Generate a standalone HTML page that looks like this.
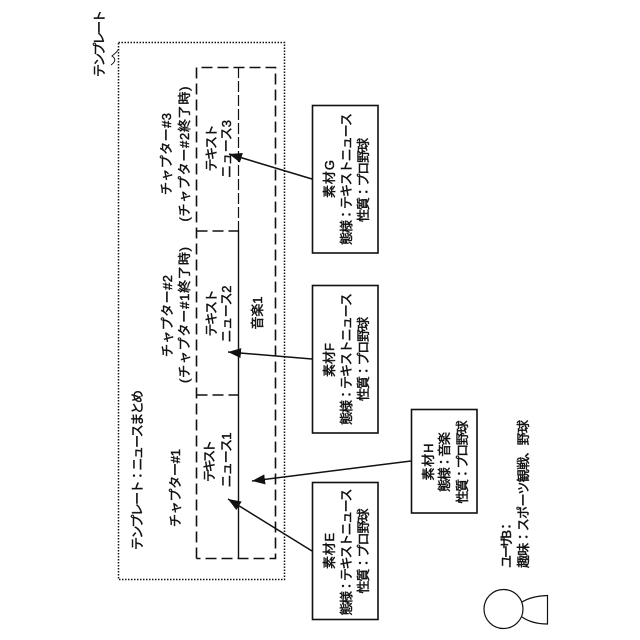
<!DOCTYPE html>
<html lang="ja">
<head>
<meta charset="utf-8">
<style>
html,body{margin:0;padding:0;background:#fff}
svg{display:block}
text{font-family:"Liberation Sans","Noto Sans CJK JP",sans-serif;font-size:13px;fill:#111;stroke:#111;stroke-width:.45px;text-anchor:middle}
</style>
</head>
<body>
<svg width="640" height="640" viewBox="0 0 640 640" xmlns="http://www.w3.org/2000/svg">
<defs>
<marker id="a" markerUnits="userSpaceOnUse" markerWidth="14" markerHeight="10" refX="13" refY="5" orient="auto">
<path d="M0 0L13 5L0 10Z" fill="#111"/>
</marker>
</defs>
<g fill="none" stroke="#111">
<rect x="118.500" y="42.500" width="166" height="537" stroke-width="1.500" stroke-dasharray="1.500 1.500"/>
<path d="M196.500 558.500V67.500H275.500V558.500H196.500" stroke-width="1.600" stroke-dasharray="11 5"/>
<path d="M196.500 231H238M196.500 395H238" stroke-width="1.600" stroke-dasharray="11 5"/>
<path d="M238.500 67V230" stroke-width="1.200" stroke-dasharray="11 3"/>
<path d="M238.500 230V558.500" stroke-width="1.400"/>
<path d="M111 65Q118 60 112 56Q116 53 119 49" stroke-width="1"/>
<rect x="312.500" y="105.500" width="65.500" height="147.500" stroke-width="1.600"/>
<rect x="312.500" y="285.500" width="65.500" height="147.500" stroke-width="1.600"/>
<rect x="312.500" y="482.500" width="65.500" height="137" stroke-width="1.600"/>
<rect x="411.500" y="409.500" width="65.500" height="103.500" stroke-width="1.600"/>
<path d="M312 179L229 154" stroke-width="1.500" marker-end="url(#a)"/>
<path d="M312 359L228 352" stroke-width="1.500" marker-end="url(#a)"/>
<path d="M312 551L228 499" stroke-width="1.500" marker-end="url(#a)"/>
<path d="M411 461L252 481" stroke-width="1.500" marker-end="url(#a)"/>
<circle cx="503.500" cy="609" r="19.500" stroke-width="1.200"/>
<path d="M522 602Q532 596 547.500 595.500V624Q532 624 522 617" stroke-width="1.200"/>
</g>
<text transform="translate(104,43.500) rotate(-90)" textLength="67">テンプレート</text>
<text transform="translate(142,470) rotate(-90)" textLength="160">テンプレート：ニュースまとめ</text>
<text transform="translate(180,488) rotate(-90)" textLength="78">チャプター#1</text>
<text transform="translate(214,461) rotate(-90)" textLength="42">テキスト</text>
<text transform="translate(231,460) rotate(-90)" textLength="55">ニュース1</text>
<text transform="translate(172,316) rotate(-90)" textLength="82">チャプター#2</text>
<text transform="translate(189,315) rotate(-90)" textLength="136">(チャプター#1終了時)</text>
<text transform="translate(216,313) rotate(-90)" textLength="47">テキスト</text>
<text transform="translate(231,314) rotate(-90)" textLength="57">ニュース2</text>
<text transform="translate(262,313) rotate(-90)" textLength="33">音楽1</text>
<text transform="translate(171,154) rotate(-90)" textLength="82">チャプター#3</text>
<text transform="translate(189,154) rotate(-90)" textLength="135">(チャプター#2終了時)</text>
<text transform="translate(216,148) rotate(-90)" textLength="47">テキスト</text>
<text transform="translate(231,149) rotate(-90)" textLength="58">ニュース3</text>
<text transform="translate(334,179) rotate(-90)" textLength="38">素材G</text>
<text transform="translate(351,179) rotate(-90)" textLength="132">態様：テキストニュース</text>
<text transform="translate(368,180) rotate(-90)" textLength="84">性質：プロ野球</text>
<text transform="translate(334,360) rotate(-90)" textLength="34">素材F</text>
<text transform="translate(351,359) rotate(-90)" textLength="132">態様：テキストニュース</text>
<text transform="translate(368,359) rotate(-90)" textLength="84">性質：プロ野球</text>
<text transform="translate(334,551) rotate(-90)" textLength="36">素材E</text>
<text transform="translate(351,552) rotate(-90)" textLength="127">態様：テキストニュース</text>
<text transform="translate(368,551) rotate(-90)" textLength="85">性質：プロ野球</text>
<text transform="translate(433,462) rotate(-90)" textLength="37">素材H</text>
<text transform="translate(449,462) rotate(-90)" textLength="60">態様：音楽</text>
<text transform="translate(467,462) rotate(-90)" textLength="83">性質：プロ野球</text>
<text transform="translate(511,544) rotate(-90)" textLength="48">ユーザB：</text>
<text transform="translate(528,494) rotate(-90)" textLength="148">趣味：スポーツ観戦、野球</text>
</svg>
</body>
</html>
